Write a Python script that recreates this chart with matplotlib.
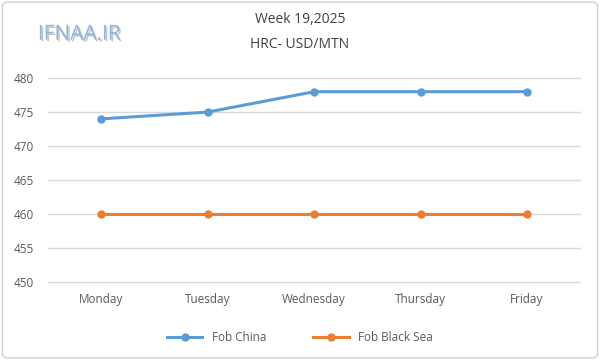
import matplotlib.pyplot as plt
import matplotlib.patheffects as pe
from matplotlib.patches import FancyBboxPatch

days = ["Monday", "Tuesday", "Wednesday", "Thursday", "Friday"]
fob_china = [474, 475, 478, 478, 478]
fob_black_sea = [460, 460, 460, 460, 460]
yticks = [450, 455, 460, 465, 470, 475, 480]

plt.rcParams['font.family'] = ['Open Sans', 'DejaVu Sans']

fig = plt.figure(figsize=(6, 3.6), dpi=100)
ax = fig.add_axes([0.08, 0.217, 0.887, 0.566])

x = range(len(days))
ax.plot(x, fob_china, color="#5b9bd5", lw=2.2, marker="o", ms=5, label="Fob China")
ax.plot(x, fob_black_sea, color="#ed7d31", lw=2.2, marker="o", ms=5, label="Fob Black Sea")

ax.set_xlim(-0.5, len(days) - 0.5)
ax.set_ylim(450, 480)
ax.set_yticks(yticks)
ax.set_xticks(list(x))
ax.set_xticklabels(days)
ax.grid(axis="y", color="#d9d9d9", lw=1, clip_on=False)
ax.set_axisbelow(True)
for s in ax.spines.values():
    s.set_visible(False)
ax.tick_params(length=0, colors="#595959", labelsize=8.5)
ax.tick_params(axis="x", pad=8)
ax.tick_params(axis="y", pad=10)

fig.text(0.5, 0.945, "Week 19,2025", ha="center", va="center", fontsize=10, color="#404040")
fig.text(0.5, 0.875, "HRC- USD/MTN", ha="center", va="center", fontsize=10, color="#404040")

fig.text(0.132, 0.905, "IFNAA.IR", ha="center", va="center", fontsize=15, color="#8fb4e3",
         path_effects=[pe.withSimplePatchShadow(offset=(1.2, -1.2), shadow_rgbFace="#a0a0a0", alpha=0.6)])

fig.legend(loc="lower center", bbox_to_anchor=(0.5, 0.015), ncol=2, frameon=False,
           fontsize=8.5, labelcolor="#595959", columnspacing=4, handlelength=3)

fig.patches.append(FancyBboxPatch((0.004, 0.006), 0.992, 0.988, boxstyle="round,pad=0,rounding_size=0.01",
                                  transform=fig.transFigure, fill=False, ec="#d0d0d0", lw=1))

fig.savefig("out.png", dpi=100)
